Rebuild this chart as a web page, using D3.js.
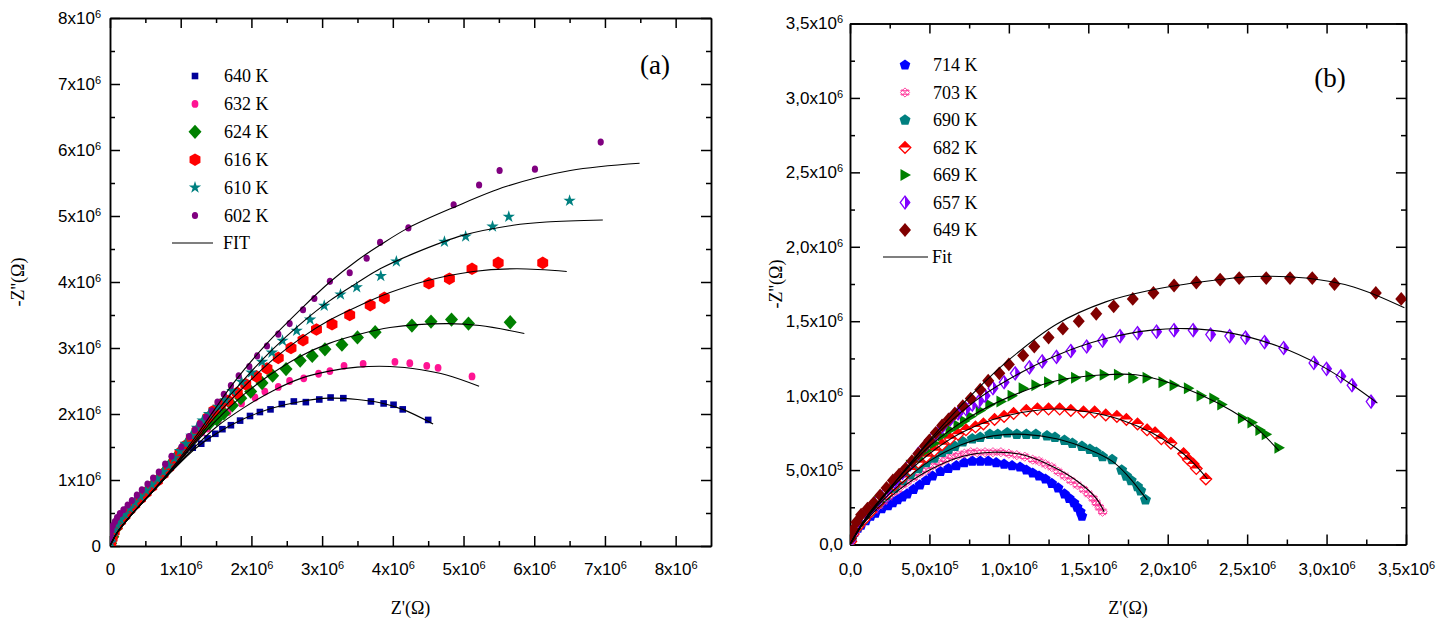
<!DOCTYPE html>
<html>
<head>
<meta charset="utf-8">
<script src="https://cdn.jsdelivr.net/npm/d3@7"></script>
<style>
body { margin: 0; background: #fff; }
svg { display: block; }
.tick text { font-family: "Liberation Sans", Arial, sans-serif; font-size: 17px; fill: #000; }
.serif { font-family: "Liberation Serif", "Times New Roman", serif; fill: #000; }
</style>
</head>
<body>
<div id="chart"></div>
<script>
// all impedance values below are in units of 1e6 Ohm
var unit = 1e6;

// ---------- panel (a) ----------
var labelsA = ["640 K", "632 K", "624 K", "616 K", "610 K", "602 K"];
var xTicksA = [0, 1, 2, 3, 4, 5, 6, 7, 8];
var yTicksA = [0, 1, 2, 3, 4, 5, 6, 7, 8];

var z640 = [[0.01,0.05],[0.03,0.14],[0.06,0.24],[0.1,0.32],[0.15,0.40],[0.21,0.48],[0.28,0.57],[0.35,0.65],[0.43,0.74],[0.51,0.83],[0.59,0.92],[0.67,1.01],[0.75,1.11],[0.83,1.21],[0.91,1.31],[0.98,1.40],[1.06,1.46],[1.17,1.49],[1.29,1.55],[1.38,1.63],[1.49,1.70],[1.59,1.77],[1.71,1.83],[1.84,1.90],[1.98,1.97],[2.12,2.03],[2.27,2.07],[2.43,2.15],[2.60,2.19],[2.77,2.18],[2.96,2.22],[3.12,2.25],[3.30,2.24],[3.69,2.19],[3.87,2.16],[4.01,2.14],[4.14,2.07],[4.50,1.91]];
var z632 = [[0.01,0.04],[0.03,0.13],[0.06,0.23],[0.1,0.31],[0.15,0.39],[0.21,0.47],[0.28,0.56],[0.35,0.64],[0.43,0.73],[0.51,0.82],[0.59,0.91],[0.67,1.0],[0.75,1.1],[0.83,1.2],[0.91,1.3],[0.99,1.40],[1.07,1.49],[1.15,1.58],[1.23,1.66],[1.30,1.72],[1.38,1.78],[1.53,1.91],[1.67,2.03],[1.86,2.16],[2.05,2.25],[2.19,2.34],[2.38,2.41],[2.54,2.50],[2.74,2.54],[2.95,2.61],[3.11,2.65],[3.31,2.73],[3.58,2.76],[4.03,2.79],[4.24,2.77],[4.48,2.73],[4.64,2.70],[5.12,2.57]];
var z624 = [[0.01,0.04],[0.04,0.14],[0.09,0.27],[0.15,0.38],[0.23,0.48],[0.31,0.58],[0.39,0.68],[0.47,0.77],[0.55,0.86],[0.63,0.95],[0.71,1.04],[0.79,1.14],[0.87,1.25],[0.95,1.36],[1.03,1.47],[1.12,1.58],[1.21,1.68],[1.31,1.78],[1.41,1.86],[1.51,1.92],[1.61,2.01],[1.73,2.13],[1.85,2.24],[1.99,2.34],[2.15,2.47],[2.30,2.58],[2.49,2.68],[2.69,2.81],[2.86,2.88],[3.04,2.98],[3.28,3.05],[3.50,3.16],[3.75,3.24],[4.27,3.34],[4.54,3.40],[4.83,3.43],[5.07,3.37],[5.66,3.39]];
var z616 = [[0.01,0.04],[0.03,0.12],[0.06,0.22],[0.1,0.30],[0.15,0.38],[0.21,0.46],[0.28,0.55],[0.35,0.63],[0.43,0.72],[0.51,0.81],[0.59,0.90],[0.67,0.99],[0.75,1.09],[0.83,1.19],[0.91,1.30],[0.99,1.41],[1.07,1.52],[1.15,1.63],[1.23,1.74],[1.31,1.85],[1.39,1.95],[1.47,2.05],[1.56,2.14],[1.67,2.20],[1.80,2.32],[1.92,2.45],[2.07,2.57],[2.22,2.69],[2.38,2.85],[2.56,3.0],[2.73,3.12],[2.92,3.28],[3.14,3.36],[3.39,3.50],[3.68,3.65],[3.88,3.76],[4.51,3.98],[4.80,4.05],[5.12,4.20],[5.49,4.29],[6.12,4.29]];
var z610 = [[0.01,0.05],[0.03,0.14],[0.06,0.24],[0.1,0.32],[0.15,0.40],[0.21,0.48],[0.28,0.57],[0.35,0.66],[0.43,0.75],[0.51,0.84],[0.59,0.93],[0.67,1.02],[0.75,1.12],[0.83,1.22],[0.91,1.33],[0.99,1.44],[1.07,1.55],[1.15,1.67],[1.23,1.79],[1.31,1.90],[1.40,2.0],[1.53,2.11],[1.63,2.21],[1.73,2.35],[1.86,2.49],[2.00,2.63],[2.15,2.79],[2.29,2.93],[2.44,3.11],[2.64,3.26],[2.83,3.43],[3.03,3.64],[3.26,3.81],[3.49,3.92],[3.83,4.09],[4.05,4.31],[4.73,4.61],[5.03,4.69],[5.41,4.84],[5.64,4.99],[6.50,5.23]];
var z602 = [[0.005,0.08],[0.01,0.16],[0.02,0.24],[0.04,0.31],[0.07,0.37],[0.1,0.43],[0.14,0.49],[0.19,0.55],[0.25,0.62],[0.31,0.69],[0.38,0.77],[0.45,0.85],[0.53,0.94],[0.61,1.03],[0.69,1.12],[0.78,1.24],[0.87,1.36],[1.01,1.50],[1.12,1.66],[1.20,1.76],[1.27,1.85],[1.36,1.95],[1.44,2.05],[1.52,2.18],[1.61,2.30],[1.71,2.43],[1.82,2.58],[1.97,2.72],[2.08,2.88],[2.22,3.03],[2.38,3.21],[2.54,3.37],[2.73,3.58],[2.89,3.75],[3.11,4.01],[3.39,4.14],[3.63,4.36],[3.82,4.60],[4.22,4.82],[4.86,5.17],[5.22,5.47],[5.51,5.69],[6.01,5.71],[6.94,6.12]];

var fit640 = [[0,0],[0.1,0.2],[0.3,0.47],[0.6,0.82],[0.9,1.16],[1.2,1.47],[1.5,1.70],[1.9,1.93],[2.3,2.09],[2.7,2.19],[3.1,2.24],[3.5,2.22],[3.82,2.17],[4.14,2.07],[4.57,1.85]];
var fit632 = [[0,0],[0.1,0.2],[0.3,0.47],[0.6,0.82],[0.9,1.17],[1.2,1.50],[1.5,1.80],[1.9,2.10],[2.3,2.35],[2.7,2.54],[3.1,2.65],[3.5,2.71],[3.96,2.72],[4.4,2.67],[4.76,2.59],[5.22,2.42]];
var fit624 = [[0,0],[0.1,0.2],[0.3,0.47],[0.6,0.82],[0.9,1.18],[1.2,1.55],[1.5,1.90],[1.9,2.30],[2.3,2.62],[2.7,2.88],[3.1,3.07],[3.5,3.2],[3.96,3.31],[4.76,3.37],[5.23,3.34],[5.86,3.22]];
var fit616 = [[0,0],[0.1,0.2],[0.3,0.47],[0.6,0.82],[0.9,1.18],[1.2,1.57],[1.5,1.97],[1.9,2.42],[2.3,2.82],[2.7,3.15],[3.1,3.42],[3.5,3.63],[3.96,3.84],[4.48,4.02],[5.14,4.16],[5.75,4.20],[6.46,4.16]];
var fit610 = [[0,0],[0.1,0.2],[0.3,0.47],[0.6,0.82],[0.9,1.19],[1.2,1.60],[1.5,2.03],[1.9,2.53],[2.3,2.98],[2.7,3.37],[3.1,3.71],[3.5,3.99],[3.82,4.20],[4.29,4.43],[5.0,4.71],[5.7,4.86],[6.17,4.91],[6.97,4.94]];
var fit602 = [[0,0],[0.1,0.2],[0.3,0.47],[0.6,0.83],[0.9,1.21],[1.2,1.64],[1.5,2.10],[1.74,2.46],[2.22,3.07],[2.7,3.59],[3.11,4.0],[3.5,4.33],[3.82,4.56],[4.22,4.82],[4.86,5.13],[5.61,5.45],[6.51,5.69],[7.49,5.80]];

// ---------- panel (b) ----------
var labelsB = ["714 K", "703 K", "690 K", "682 K", "669 K", "657 K", "649 K"];
var xTicksB = [0, 0.5, 1, 1.5, 2, 2.5, 3, 3.5];
var yTicksB = [0, 0.5, 1, 1.5, 2, 2.5, 3, 3.5];

var z714 = [[0.005,0.02],[0.015,0.05],[0.03,0.08],[0.05,0.11],[0.07,0.13],[0.10,0.16],[0.13,0.19],[0.16,0.21],[0.20,0.24],[0.24,0.26],[0.27,0.28],[0.30,0.30],[0.33,0.32],[0.36,0.34],[0.40,0.37],[0.44,0.40],[0.48,0.43],[0.52,0.46],[0.57,0.49],[0.62,0.51],[0.67,0.53],[0.72,0.55],[0.77,0.56],[0.82,0.56],[0.87,0.56],[0.92,0.55],[0.97,0.54],[1.02,0.53],[1.07,0.52],[1.11,0.50],[1.15,0.48],[1.19,0.46],[1.23,0.44],[1.27,0.41],[1.31,0.38],[1.35,0.34],[1.38,0.31],[1.41,0.28],[1.43,0.25],[1.45,0.22],[1.46,0.19]];
var z703 = [[0.005,0.02],[0.015,0.05],[0.03,0.08],[0.05,0.11],[0.07,0.14],[0.09,0.17],[0.12,0.20],[0.15,0.23],[0.18,0.26],[0.21,0.29],[0.24,0.32],[0.27,0.35],[0.30,0.37],[0.33,0.40],[0.36,0.42],[0.40,0.45],[0.44,0.48],[0.48,0.50],[0.52,0.53],[0.56,0.55],[0.60,0.57],[0.64,0.59],[0.68,0.60],[0.72,0.61],[0.76,0.62],[0.80,0.62],[0.85,0.62],[0.90,0.62],[0.95,0.62],[1.00,0.61],[1.05,0.60],[1.10,0.59],[1.15,0.57],[1.19,0.56],[1.23,0.54],[1.27,0.52],[1.31,0.49],[1.35,0.46],[1.39,0.43],[1.43,0.40],[1.47,0.37],[1.50,0.34],[1.53,0.31],[1.55,0.28],[1.57,0.25],[1.59,0.22]];
var z690 = [[0.005,0.02],[0.02,0.07],[0.05,0.12],[0.09,0.17],[0.13,0.22],[0.18,0.28],[0.23,0.33],[0.28,0.38],[0.33,0.43],[0.38,0.47],[0.43,0.51],[0.48,0.55],[0.53,0.58],[0.58,0.62],[0.62,0.64],[0.66,0.66],[0.71,0.69],[0.77,0.71],[0.82,0.72],[0.88,0.74],[0.93,0.74],[0.99,0.75],[1.05,0.74],[1.11,0.74],[1.17,0.74],[1.24,0.73],[1.29,0.72],[1.35,0.70],[1.40,0.68],[1.46,0.66],[1.51,0.64],[1.55,0.62],[1.59,0.59],[1.65,0.57],[1.71,0.50],[1.74,0.46],[1.77,0.43],[1.81,0.39],[1.83,0.36],[1.86,0.30]];
var z682 = [[0.005,0.02],[0.02,0.07],[0.05,0.12],[0.09,0.17],[0.13,0.22],[0.18,0.28],[0.23,0.34],[0.28,0.40],[0.33,0.45],[0.38,0.50],[0.43,0.55],[0.48,0.59],[0.53,0.63],[0.58,0.67],[0.63,0.71],[0.68,0.74],[0.73,0.77],[0.79,0.79],[0.84,0.81],[0.91,0.84],[0.97,0.86],[1.03,0.88],[1.11,0.90],[1.18,0.91],[1.25,0.91],[1.32,0.91],[1.39,0.90],[1.47,0.89],[1.54,0.89],[1.61,0.87],[1.68,0.86],[1.74,0.84],[1.81,0.81],[1.87,0.77],[1.92,0.75],[1.96,0.71],[2.02,0.68],[2.10,0.61],[2.13,0.57],[2.16,0.54],[2.18,0.51],[2.24,0.44]];
var z669 = [[0.005,0.03],[0.02,0.08],[0.05,0.13],[0.09,0.18],[0.13,0.23],[0.18,0.29],[0.23,0.35],[0.28,0.41],[0.33,0.47],[0.38,0.53],[0.43,0.58],[0.48,0.63],[0.53,0.68],[0.58,0.73],[0.63,0.77],[0.68,0.80],[0.72,0.83],[0.76,0.86],[0.82,0.90],[0.88,0.94],[0.95,0.96],[1.02,1.0],[1.09,1.05],[1.17,1.07],[1.25,1.09],[1.34,1.11],[1.42,1.12],[1.51,1.13],[1.60,1.14],[1.69,1.14],[1.78,1.12],[1.87,1.12],[1.97,1.09],[2.04,1.07],[2.13,1.05],[2.21,1.0],[2.29,0.98],[2.34,0.94],[2.47,0.85],[2.53,0.82],[2.58,0.77],[2.62,0.74],[2.70,0.65]];
var z657 = [[0.005,0.03],[0.02,0.08],[0.05,0.14],[0.09,0.19],[0.13,0.24],[0.18,0.30],[0.23,0.36],[0.28,0.42],[0.33,0.48],[0.38,0.54],[0.43,0.61],[0.48,0.67],[0.53,0.73],[0.58,0.79],[0.63,0.84],[0.68,0.88],[0.73,0.91],[0.77,0.94],[0.81,0.96],[0.85,1.0],[0.90,1.05],[0.97,1.09],[1.04,1.15],[1.13,1.19],[1.21,1.23],[1.30,1.26],[1.39,1.30],[1.49,1.33],[1.59,1.37],[1.70,1.40],[1.81,1.42],[1.93,1.43],[2.04,1.44],[2.16,1.44],[2.27,1.41],[2.39,1.40],[2.49,1.39],[2.61,1.36],[2.73,1.32],[2.92,1.22],[3.00,1.18],[3.09,1.13],[3.16,1.07],[3.28,0.96]];
var z649 = [[0.005,0.04],[0.02,0.10],[0.04,0.15],[0.07,0.20],[0.11,0.24],[0.15,0.28],[0.19,0.33],[0.23,0.38],[0.27,0.43],[0.31,0.47],[0.35,0.51],[0.39,0.56],[0.43,0.61],[0.47,0.66],[0.50,0.70],[0.54,0.75],[0.58,0.80],[0.62,0.84],[0.66,0.88],[0.71,0.93],[0.76,0.98],[0.82,1.04],[0.87,1.10],[0.94,1.15],[1.00,1.21],[1.09,1.27],[1.16,1.33],[1.25,1.39],[1.34,1.45],[1.44,1.50],[1.55,1.55],[1.66,1.60],[1.78,1.65],[1.91,1.69],[2.04,1.74],[2.18,1.76],[2.33,1.78],[2.45,1.79],[2.62,1.79],[2.77,1.79],[2.91,1.79],[3.05,1.75],[3.31,1.69],[3.47,1.65]];

var fit703 = [[0,0],[0.1,0.16],[0.3,0.36],[0.5,0.5],[0.7,0.59],[0.9,0.62],[1.1,0.6],[1.3,0.51],[1.45,0.41],[1.55,0.31],[1.6,0.22]];
var fit690 = [[0,0],[0.1,0.17],[0.3,0.39],[0.5,0.56],[0.7,0.67],[0.9,0.73],[1.1,0.74],[1.3,0.71],[1.5,0.64],[1.65,0.56],[1.75,0.46],[1.87,0.30]];
var fit682 = [[0,0],[0.1,0.18],[0.3,0.42],[0.5,0.61],[0.7,0.75],[0.9,0.84],[1.1,0.89],[1.3,0.91],[1.5,0.89],[1.7,0.84],[1.9,0.75],[2.05,0.65],[2.15,0.56],[2.25,0.44]];
var fit669 = [[0,0],[0.1,0.18],[0.3,0.44],[0.5,0.66],[0.76,0.86],[1.0,0.99],[1.3,1.1],[1.6,1.14],[1.8,1.14],[2.0,1.09],[2.2,1.01],[2.4,0.9],[2.55,0.79],[2.7,0.63]];
var fit657 = [[0,0],[0.1,0.17],[0.3,0.44],[0.5,0.69],[0.77,0.95],[1.0,1.11],[1.3,1.27],[1.6,1.38],[1.9,1.44],[2.12,1.45],[2.4,1.42],[2.7,1.33],[2.95,1.21],[3.15,1.08],[3.32,0.95]];
var fit649 = [[0,0],[0.05,0.09],[0.15,0.24],[0.3,0.44],[0.5,0.70],[0.77,1.01],[1.0,1.24],[1.3,1.48],[1.61,1.63],[1.9,1.71],[2.12,1.75],[2.54,1.80],[2.87,1.79],[3.17,1.73],[3.49,1.59]];

// marker styles
var styleA = [
  {shape: "square", color: "#000099", r: 3.3},
  {shape: "circle", color: "#ff1493", r: 3.4},
  {shape: "diamond", color: "#008000", r: 6.5, h: 1.1},
  {shape: "hexagon", color: "#ff0000", r: 6.3},
  {shape: "star", color: "#008080", r: 6.5},
  {shape: "circle", color: "#800080", r: 3.1}
];
var styleB = [
  {shape: "pentagon", color: "#0000ff", r: 5.6},
  {shape: "cross", color: "#ff3399", r: 4.6},
  {shape: "pentagon", color: "#008080", r: 5.8},
  {shape: "halfTop", color: "#ff0000", r: 5.8, h: 1.0},
  {shape: "triangle", color: "#008000", r: 6},
  {shape: "halfRight", color: "#8000ff", r: 4.8, h: 1.35},
  {shape: "diamond", color: "#800000", r: 6, h: 1.15}
];

var svg = d3.select("#chart").append("svg")
  .attr("width", 1446)
  .attr("height", 623);

function polygon(n, r, rot) {
  var pts = d3.range(n).map(function (i) {
    var a = rot + i * 2 * Math.PI / n;
    return [r * Math.cos(a), r * Math.sin(a)];
  });
  return "M" + pts.join("L") + "Z";
}

function drawMarker(g, m) {
  var r = m.r, c = m.color, h = m.h || 1;
  if (m.shape == "square") {
    g.append("rect").attr("x", -r).attr("y", -r).attr("width", 2 * r).attr("height", 2 * r).attr("fill", c);
  } else if (m.shape == "circle") {
    g.append("ellipse").attr("rx", r).attr("ry", r * 1.15).attr("fill", c);
  } else if (m.shape == "diamond") {
    g.append("path").attr("d", `M0,${-r * h}L${r},0L0,${r * h}L${-r},0Z`).attr("fill", c);
  } else if (m.shape == "hexagon") {
    g.append("path").attr("d", polygon(6, r, -Math.PI / 2)).attr("fill", c);
  } else if (m.shape == "pentagon") {
    g.append("path").attr("d", polygon(5, r, -Math.PI / 2)).attr("fill", c);
  } else if (m.shape == "star") {
    g.append("path").attr("d", d3.symbol(d3.symbolStar, r * r / 0.8908)()).attr("fill", c);
  } else if (m.shape == "triangle") {
    g.append("path").attr("d", `M${-r * 0.75},${-r}L${r},0L${-r * 0.75},${r}Z`).attr("fill", c);
  } else if (m.shape == "halfTop" || m.shape == "halfRight") {
    g.append("path").attr("d", `M0,${-r * h}L${r},0L0,${r * h}L${-r},0Z`)
      .attr("fill", "#fff").attr("stroke", c).attr("stroke-width", 1.3);
    var half = m.shape == "halfTop"
      ? `M${-r},0L0,${-r * h}L${r},0Z`
      : `M0,${-r * h}L${r},0L0,${r * h}Z`;
    g.append("path").attr("d", half).attr("fill", c);
  } else if (m.shape == "cross") {
    var k = r * 0.75;
    g.append("path")
      .attr("d", `M0,${-r}L${r},0L0,${r}L${-r},0Z M${-k},${-k}L${k},${k} M${k},${-k}L${-k},${k} M${-r},${-r * 0.4}L${r},${-r * 0.4} M${-r},${r * 0.4}L${r},${r * 0.4}`)
      .attr("fill", "none").attr("stroke", c).attr("stroke-width", 0.9);
  }
}

function supLabel(sel, parts) {
  sel.text(null);
  sel.append("tspan").text(parts[0]);
  if (parts[1]) {
    sel.append("tspan").attr("dy", "-0.55em").attr("font-size", "11px").text(parts[1]);
  }
}

function drawPanel(cfg) {
  var x = d3.scaleLinear().domain(cfg.xDomain).range(cfg.xRange);
  var y = d3.scaleLinear().domain(cfg.yDomain).range(cfg.yRange);
  var g = svg.append("g");

  // ticks: major inward 10px, minor inward 5px, on all four sides
  var left = cfg.xRange[0], right = cfg.xRange[1], bottom = cfg.yRange[0], top = cfg.yRange[1];
  var majX = cfg.xTicks.map(d => d * unit), majY = cfg.yTicks.map(d => d * unit);
  var minX = cfg.xMinor.map(d => d * unit), minY = cfg.yMinor.map(d => d * unit);

  var xb = g.append("g").attr("transform", `translate(0,${bottom})`)
    .call(d3.axisBottom(x).tickValues(majX).tickSize(-10).tickSizeOuter(0).tickPadding(cfg.xPad));
  xb.selectAll(".tick text").each(function (d) { supLabel(d3.select(this), cfg.fmt(d / unit)); });
  g.append("g").attr("transform", `translate(0,${bottom})`)
    .call(d3.axisBottom(x).tickValues(minX).tickSize(-5).tickSizeOuter(0).tickFormat(""));

  var yl = g.append("g").attr("transform", `translate(${left},0)`)
    .call(d3.axisLeft(y).tickValues(majY).tickSize(-10).tickSizeOuter(0).tickPadding(cfg.yPad));
  yl.selectAll(".tick text").each(function (d) { supLabel(d3.select(this), cfg.fmt(d / unit)); });
  g.append("g").attr("transform", `translate(${left},0)`)
    .call(d3.axisLeft(y).tickValues(minY).tickSize(-5).tickSizeOuter(0).tickFormat(""));

  g.append("g").attr("transform", `translate(0,${top})`)
    .call(d3.axisTop(x).tickValues(majX).tickSize(-10).tickSizeOuter(0).tickFormat(""));
  g.append("g").attr("transform", `translate(0,${top})`)
    .call(d3.axisTop(x).tickValues(minX).tickSize(-5).tickSizeOuter(0).tickFormat(""));
  g.append("g").attr("transform", `translate(${right},0)`)
    .call(d3.axisRight(y).tickValues(majY).tickSize(-10).tickSizeOuter(0).tickFormat(""));
  g.append("g").attr("transform", `translate(${right},0)`)
    .call(d3.axisRight(y).tickValues(minY).tickSize(-5).tickSizeOuter(0).tickFormat(""));

  g.selectAll(".domain, .tick line").attr("stroke", "#000").attr("stroke-width", 1.5);

  // data markers
  var clip = "clip" + cfg.id;
  svg.append("clipPath").attr("id", clip).append("rect")
    .attr("x", left).attr("y", top).attr("width", right - left).attr("height", bottom - top);
  var plot = g.append("g").attr("clip-path", `url(#${clip})`);

  cfg.series.forEach(function (s, i) {
    var st = cfg.styles[i];
    plot.append("g").selectAll("g")
      .data(s)
      .enter()
      .append("g")
      .attr("transform", d => `translate(${x(d[0] * unit)},${y(d[1] * unit)})`)
      .each(function () { drawMarker(d3.select(this), st); });
  });

  // fitted curves
  var line = d3.line()
    .x(d => x(d[0] * unit))
    .y(d => y(d[1] * unit))
    .curve(d3.curveCatmullRom.alpha(0.5));
  cfg.fits.forEach(function (f) {
    plot.append("path").attr("d", line(f))
      .attr("fill", "none").attr("stroke", "#000").attr("stroke-width", 1.1);
  });

  // legend
  cfg.labels.forEach(function (lab, i) {
    var ly = cfg.legend.y0 + i * cfg.legend.dy;
    var mg = g.append("g").attr("transform", `translate(${cfg.legend.mx},${ly})`);
    drawMarker(mg, cfg.styles[i]);
    g.append("text").attr("class", "serif")
      .attr("x", cfg.legend.tx).attr("y", ly).attr("dy", "0.35em")
      .attr("font-size", "18px").text(lab);
  });
  g.append("line")
    .attr("x1", cfg.legend.fx1).attr("x2", cfg.legend.fx2)
    .attr("y1", cfg.legend.fy).attr("y2", cfg.legend.fy)
    .attr("stroke", "#000").attr("stroke-width", 1.1);
  g.append("text").attr("class", "serif")
    .attr("x", cfg.legend.tx - 1).attr("y", cfg.legend.fy).attr("dy", "0.35em")
    .attr("font-size", "18px").text(cfg.fitLabel);

  // panel tag
  g.append("text").attr("class", "serif")
    .attr("x", cfg.tag[0]).attr("y", cfg.tag[1]).attr("dy", "0.35em")
    .attr("text-anchor", "middle").attr("font-size", "27px").text(cfg.tagText);

  // axis titles
  g.append("text").attr("class", "serif")
    .attr("x", (left + right) / 2).attr("y", 614)
    .attr("text-anchor", "middle").attr("font-size", "18px").text("Z'(Ω)");
  g.append("text").attr("class", "serif")
    .attr("transform", `translate(${cfg.yTitleX},${(top + bottom) / 2}) rotate(-90)`)
    .attr("text-anchor", "middle").attr("font-size", "18px").text("-Z''(Ω)");
}

function fmtA(v) {
  return v === 0 ? ["0"] : [v + "x10", "6"];
}
function fmtB(v) {
  if (v === 0) return ["0,0"];
  if (v < 1) return [(v * 10).toFixed(1).replace(".", ",") + "x10", "5"];
  return [v.toFixed(1).replace(".", ",") + "x10", "6"];
}

drawPanel({
  id: "a",
  xDomain: [0, 8.5 * unit], xRange: [110, 711],
  yDomain: [0, 8 * unit], yRange: [546, 18],
  xTicks: xTicksA, yTicks: yTicksA,
  xMinor: [0.5, 1.5, 2.5, 3.5, 4.5, 5.5, 6.5, 7.5],
  yMinor: [0.5, 1.5, 2.5, 3.5, 4.5, 5.5, 6.5, 7.5],
  xPad: 17, yPad: 9,
  fmt: fmtA,
  series: [z640, z632, z624, z616, z610, z602],
  fits: [fit640, fit632, fit624, fit616, fit610, fit602],
  styles: styleA,
  labels: labelsA,
  fitLabel: "FIT",
  legend: {mx: 195, tx: 224, y0: 76, dy: 27.9, fx1: 172, fx2: 213, fy: 243},
  tag: [655, 65], tagText: "(a)",
  yTitleX: 24
});

drawPanel({
  id: "b",
  xDomain: [0, 3.5 * unit], xRange: [850, 1406],
  yDomain: [0, 3.5 * unit], yRange: [544.5, 23.5],
  xTicks: xTicksB, yTicks: yTicksB,
  xMinor: [0.25, 0.75, 1.25, 1.75, 2.25, 2.75, 3.25],
  yMinor: [0.25, 0.75, 1.25, 1.75, 2.25, 2.75, 3.25],
  xPad: 18, yPad: 7,
  fmt: fmtB,
  series: [z714, z703, z690, z682, z669, z657, z649],
  fits: [fit703, fit690, fit682, fit669, fit657, fit649],
  styles: styleB,
  labels: labelsB,
  fitLabel: "Fit",
  legend: {mx: 905, tx: 933, y0: 65, dy: 27.5, fx1: 883, fx2: 928, fy: 257},
  tag: [1330, 78], tagText: "(b)",
  yTitleX: 782
});
</script>
</body>
</html>
